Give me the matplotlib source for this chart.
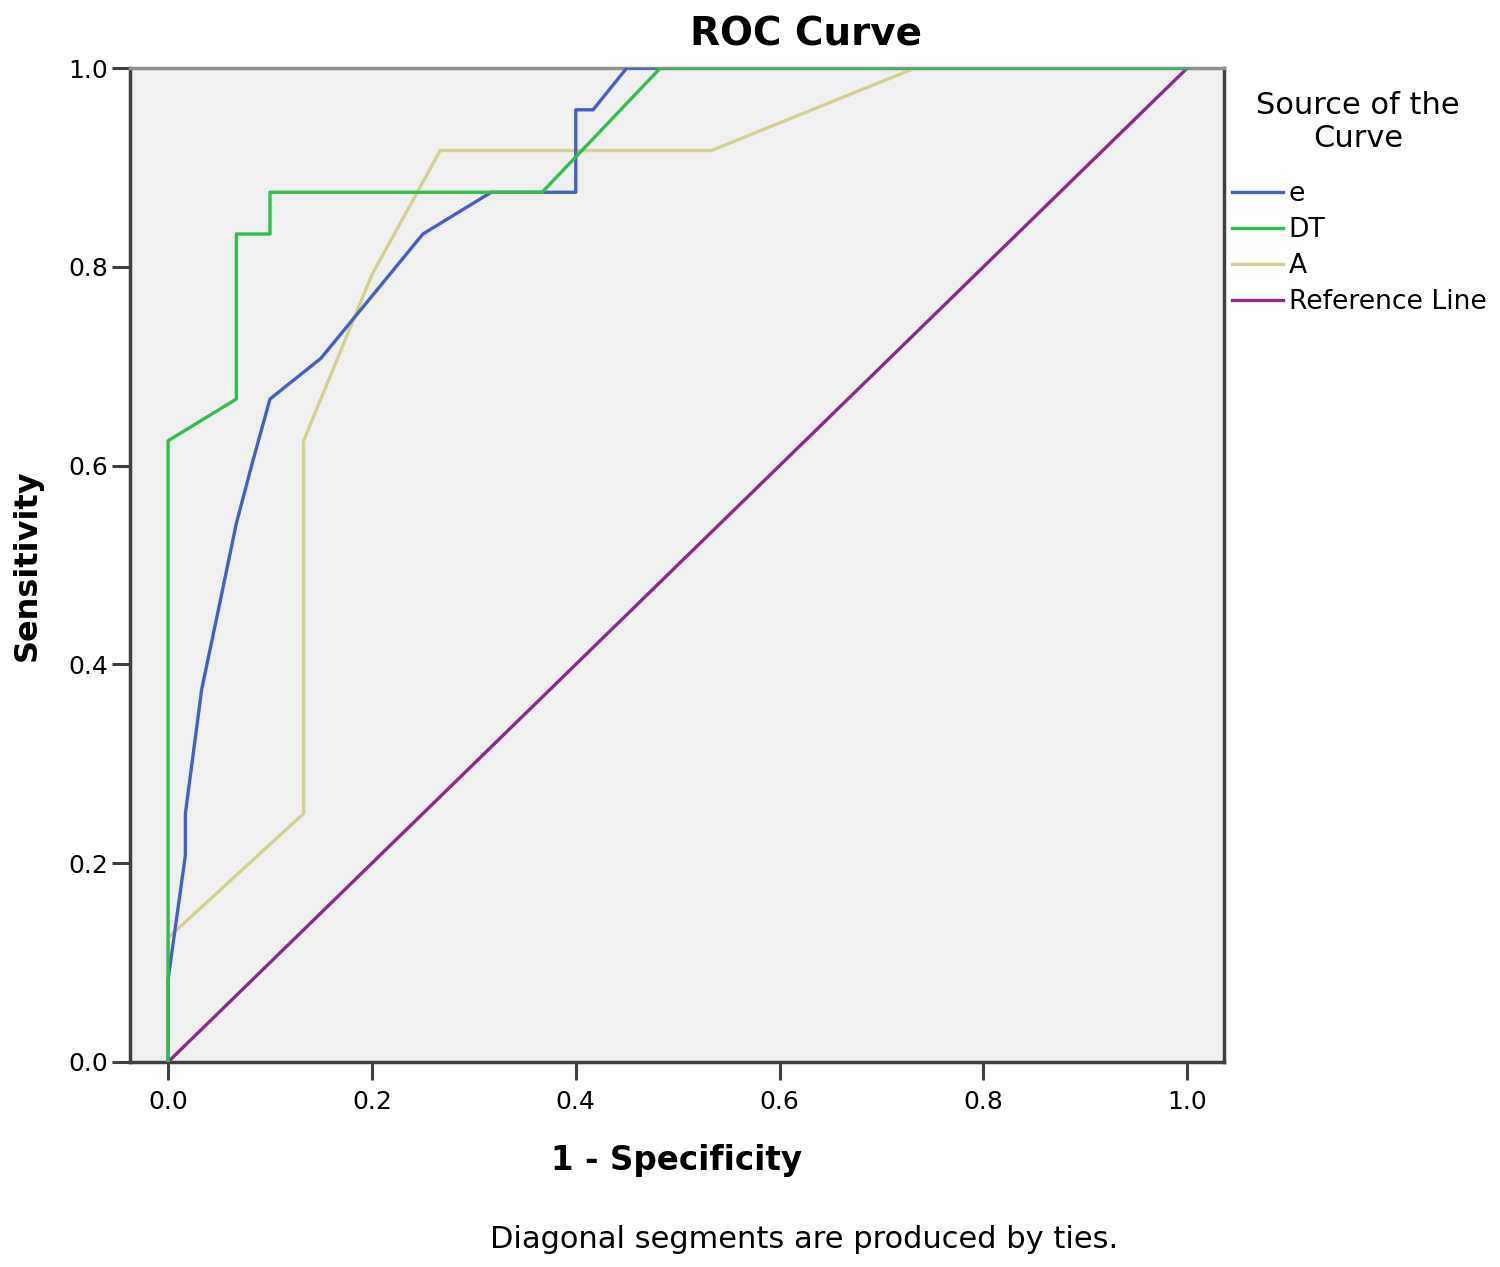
import matplotlib
matplotlib.use('Agg')
import matplotlib.pyplot as plt

# ROC points (1 - specificity, sensitivity)
e_fpr = [0.0, 0.0, 0.017, 0.017, 0.033, 0.05, 0.067, 0.083, 0.1, 0.15, 0.25, 0.317, 0.4, 0.4, 0.417, 0.45, 1.0]
e_tpr = [0.0, 0.083, 0.208, 0.25, 0.375, 0.458, 0.542, 0.604, 0.667, 0.708, 0.833, 0.875, 0.875, 0.958, 0.958, 1.0, 1.0]

dt_fpr = [0.0, 0.0, 0.067, 0.067, 0.1, 0.1, 0.367, 0.483, 1.0]
dt_tpr = [0.0, 0.625, 0.667, 0.833, 0.833, 0.875, 0.875, 1.0, 1.0]

a_fpr = [0.0, 0.0, 0.133, 0.133, 0.2, 0.267, 0.533, 0.733, 1.0]
a_tpr = [0.0, 0.125, 0.25, 0.625, 0.792, 0.917, 0.917, 1.0, 1.0]

ref_fpr = [0.0, 1.0]
ref_tpr = [0.0, 1.0]

ticks = [0.0, 0.2, 0.4, 0.6, 0.8, 1.0]

fig = plt.figure(figsize=(15, 12.67), dpi=100, facecolor='white')
ax = fig.add_axes([0.0867, 0.1618, 0.7293, 0.7845])
ax.set_facecolor('#f0f0f0')

ax.plot(a_fpr, a_tpr, color='#d6d08e', lw=2.4, label='A', zorder=3)
ax.plot(e_fpr, e_tpr, color='#4361c2', lw=2.4, label='e', zorder=4)
ax.plot(dt_fpr, dt_tpr, color='#2fbf4a', lw=2.4, label='DT', zorder=5)
ax.plot(ref_fpr, ref_tpr, color='#8a2a8a', lw=2.4, label='Reference Line', zorder=2)

ax.set_xlim(-0.0373, 1.036)
ax.set_ylim(0, 1)
ax.set_xticks(ticks)
ax.set_yticks(ticks)
ax.set_xticklabels([f'{t:.1f}' for t in ticks])
ax.set_yticklabels([f'{t:.1f}' for t in ticks])
ax.tick_params(axis='both', length=13, width=2.2, color='#404040', labelsize=18)
ax.tick_params(axis='x', pad=7)
ax.tick_params(axis='y', pad=3)

for side in ['left', 'bottom', 'right']:
    ax.spines[side].set_color('#404040')
    ax.spines[side].set_linewidth(2.5)
ax.spines['top'].set_color('#909090')
ax.spines['top'].set_linewidth(2.5)

fig.text(0.537, 1 - 35 / 1267, 'ROC Curve', ha='center', va='center', fontsize=28, fontweight='bold')
ax.set_xlabel('1 - Specificity', fontsize=23.5, fontweight='bold', labelpad=22)
ax.set_ylabel('Sensitivity', fontsize=23, fontweight='bold', labelpad=18)

handles, labels = ax.get_legend_handles_labels()
order = ['e', 'DT', 'A', 'Reference Line']
hmap = dict(zip(labels, handles))
fig.text(1358 / 1500, 1 - 122 / 1267, 'Source of the\nCurve', ha='center', va='center',
         fontsize=22, linespacing=1.15)
leg = fig.legend([hmap[k] for k in order], order, loc='upper left',
                 bbox_to_anchor=(1232 / 1500, 1 - 181 / 1267), frameon=False, fontsize=19.2,
                 handlelength=1.9, handletextpad=0.22, labelspacing=0.38,
                 borderaxespad=0, borderpad=0)

fig.text(0.536, 1 - 1240 / 1267, 'Diagonal segments are produced by ties.', ha='center', va='center',
         fontsize=22)

fig.savefig('out.png', dpi=100)
